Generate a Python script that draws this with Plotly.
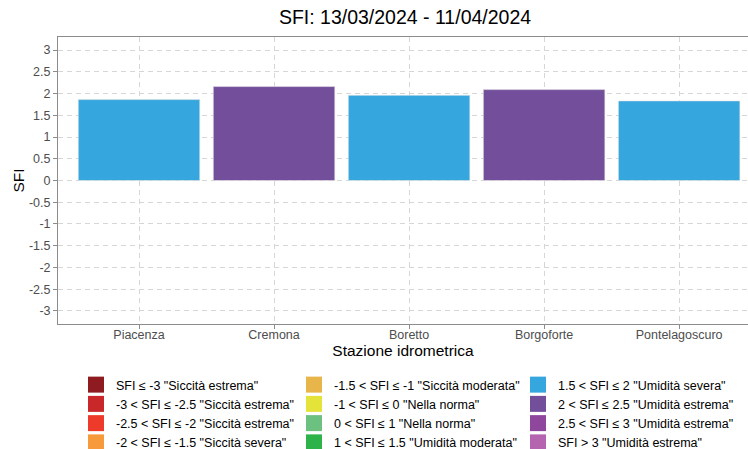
import plotly.graph_objects as go

# ---- data ----
stations = ["Piacenza", "Cremona", "Boretto", "Borgoforte", "Pontelagoscuro"]
sfi_values = [1.86, 2.16, 1.96, 2.09, 1.83]

y_tick_values = [3, 2.5, 2, 1.5, 1, 0.5, 0, -0.5, -1, -1.5, -2, -2.5, -3]
y_tick_labels = ["3", "2.5", "2", "1.5", "1", "0.5", "0", "-0.5", "-1", "-1.5", "-2", "-2.5", "-3"]

class_upper = [-3, -2.5, -2, -1.5, -1, 0, 1, 1.5, 2, 2.5, 3, float("inf")]
class_labels = [
    'SFI ≤ -3 "Siccità estrema"',
    '-3 < SFI ≤ -2.5 "Siccità estrema"',
    '-2.5 < SFI ≤ -2 "Siccità estrema"',
    '-2 < SFI ≤ -1.5 "Siccità severa"',
    '-1.5 < SFI ≤ -1 "Siccità moderata"',
    '-1 < SFI ≤ 0 "Nella norma"',
    '0 < SFI ≤ 1 "Nella norma"',
    '1 < SFI ≤ 1.5 "Umidità moderata"',
    '1.5 < SFI ≤ 2 "Umidità severa"',
    '2 < SFI ≤ 2.5 "Umidità estrema"',
    '2.5 < SFI ≤ 3 "Umidità estrema"',
    'SFI > 3 "Umidità estrema"',
]
class_colors = [
    "#8E1B1F", "#C8282A", "#EE3A2B", "#F79A3C",
    "#E8B54A", "#E3E33A", "#6CC080", "#2DB34A",
    "#36A6DE", "#734F9B", "#8E479C", "#B565AF",
]

title_text = "SFI: 13/03/2024 - 11/04/2024"
x_title = "Stazione idrometrica"
y_title = "SFI"


def class_index(v):
    for i, ub in enumerate(class_upper):
        if v <= ub:
            return i
    return len(class_upper) - 1


bar_colors = [class_colors[class_index(v)] for v in sfi_values]

FONT = "Liberation Sans, Arial, sans-serif"
W, H = 748, 449

fig = go.Figure()
fig.add_trace(go.Bar(
    x=stations, y=sfi_values,
    marker=dict(color=bar_colors, line=dict(color="#e8e8e8", width=0.6)),
    showlegend=False, hoverinfo="x+y",
))

legend_ids = ["legend", "legend2", "legend3"]
for i, (lab, col) in enumerate(zip(class_labels, class_colors)):
    fig.add_trace(go.Scatter(
        x=[stations[0]], y=[None], mode="markers",
        marker=dict(symbol="square", size=16, color=col),
        name=lab, legend=legend_ids[i // 4], showlegend=True,
        hoverinfo="skip",
    ))

legend_x_px = [76, 294, 518]
legend_common = dict(
    xref="container", yref="container", xanchor="left", yanchor="top",
    y=1 - 370 / H, font=dict(family=FONT, size=12.5, color="#000000"),
    bgcolor="rgba(0,0,0,0)", borderwidth=0, itemsizing="trace",
    orientation="v", tracegroupgap=0,
)

fig.update_layout(
    width=W, height=H,
    margin=dict(l=58, r=0, t=37, b=125, autoexpand=False),
    paper_bgcolor="white", plot_bgcolor="white",
    font=dict(family=FONT, color="#000000"),
    title=dict(text=title_text, x=405 / W, xref="container", xanchor="center",
               y=1 - 17 / H, yanchor="middle", yref="container",
               font=dict(family=FONT, size=19.5, color="#000000")),
    bargap=0.1,
    legend=dict(x=legend_x_px[0] / W, **legend_common),
    legend2=dict(x=legend_x_px[1] / W, **legend_common),
    legend3=dict(x=legend_x_px[2] / W, **legend_common),
    annotations=[dict(
        text=y_title, textangle=-90, xref="paper", yref="paper",
        x=-(58 - 18) / 690, y=0.5, xanchor="center", yanchor="middle",
        showarrow=False, font=dict(family=FONT, size=15.5, color="#000000"),
    )],
)

fig.update_xaxes(
    type="category", range=[-0.6, 4.51],
    showgrid=True, gridcolor="#d6d6d6", griddash="5px,4px", gridwidth=1,
    showline=True, mirror=True, linecolor="#8c8c8c", linewidth=1,
    ticks="outside", ticklen=4, tickcolor="#8c8c8c", ticklabelstandoff=-5,
    tickfont=dict(family=FONT, size=12.5, color="#4D4D4D"),
    title=dict(text=x_title, font=dict(family=FONT, size=15.5, color="#000000"), standoff=2),
)
fig.update_yaxes(
    range=[-3.3, 3.3], tickvals=y_tick_values, ticktext=y_tick_labels,
    showgrid=True, gridcolor="#d6d6d6", griddash="5px,4px", gridwidth=1,
    zeroline=False,
    showline=True, mirror=True, linecolor="#8c8c8c", linewidth=1,
    ticks="outside", ticklen=4, tickcolor="#8c8c8c",
    tickfont=dict(family=FONT, size=12.5, color="#4D4D4D"),
)

fig.write_html("out.html", config={"displayModeBar": False},
               post_script="document.body.style.margin='0';")
